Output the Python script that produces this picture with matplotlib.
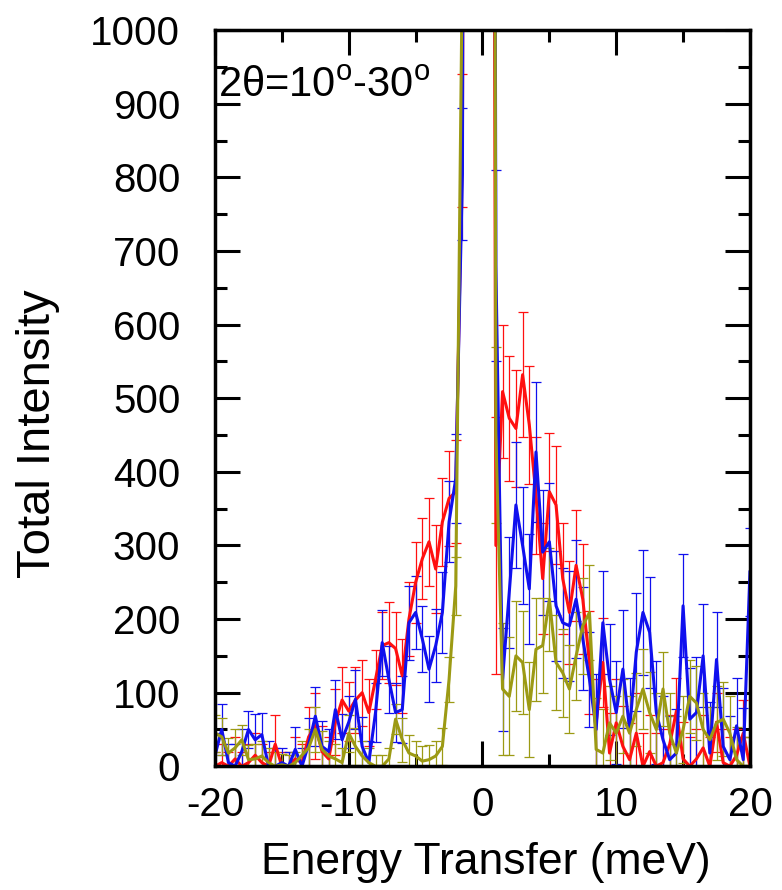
import numpy as np
import matplotlib
matplotlib.use("Agg")
import matplotlib.pyplot as plt
from matplotlib.ticker import MultipleLocator

plt.rcParams['font.family'] = ['Liberation Sans', 'DejaVu Sans']
plt.rcParams['axes.unicode_minus'] = False
plt.rcParams['mathtext.fontset'] = 'custom'
plt.rcParams['mathtext.rm'] = 'Liberation Sans'

# energy grid (meV), 0.5 meV bins
energy = np.linspace(-20, 20, 81)

# elastic bins (-1.0 .. 0.5) run far off the top of the scale
red_I = [0, 5, 0, 10, 0, 5, 15, 5, 0, 30, 0, 0, 10, 5, 40, 55, 20, 10, 60, 90,
         75, 90, 100, 73, 118, 164, 168, 160, 123, 200, 250, 282, 305, 268, 332, 364, 373, 850,
         4000, 9000, 9000, 4000,
         300, 509, 473, 459, 532, 464, 368, 255, 373, 355, 255, 209, 273, 227, 141, 59, 141, 18, 59, 27,
         9, 45, 0, 20, 0, 5, 30, 75, 10, 0, 10, 25, 0, 60, 5, 0, 15, 45, 0]
red_err = [20, 25, 20, 30, 20, 25, 30, 25, 20, 40, 20, 20, 30, 25, 40, 45, 35, 30, 45, 45,
           40, 45, 45, 45, 40, 45, 55, 50, 50, 50, 55, 55, 60, 60, 60, 65, 70, 90,
           200, 300, 300, 200,
           175, 90, 85, 80, 85, 80, 80, 75, 80, 80, 75, 70, 75, 75, 70, 60, 60, 55, 60, 55,
           50, 55, 45, 50, 45, 45, 40, 45, 50, 40, 40, 45, 40, 40, 45, 40, 35, 45, 40]

blue_I = [15, 50, 5, 0, 20, 50, 36, 43, 0, 0, 5, 0, 23, 0, 30, 68, 27, 20, 77, 36,
          60, 91, 27, 5, 73, 168, 118, 73, 77, 195, 209, 173, 132, 164, 209, 332, 391, 805,
          5000, 12000, 12000, 5000,
          680, 118, 236, 355, 300, 241, 427, 291, 305, 218, 195, 191, 227, 173, 118, 50, 195, 118, 73, 132,
          50, 155, 209, 182, 73, 36, 9, 18, 218, 64, 73, 150, 18, 145, 27, 9, 55, 9, 264]
blue_err = [30, 35, 25, 30, 30, 25, 35, 30, 35, 25, 20, 20, 30, 25, 35, 40, 35, 30, 40, 35,
            35, 40, 40, 30, 40, 45, 45, 40, 45, 50, 50, 45, 45, 50, 55, 55, 60, 90,
            200, 300, 300, 200,
            130, 70, 75, 85, 80, 75, 95, 85, 80, 75, 75, 75, 80, 70, 65, 75, 70, 75, 70, 80,
            70, 80, 85, 75, 70, 60, 60, 60, 70, 70, 75, 70, 70, 65, 80, 60, 65, 70, 60]

olive_I = [45, 40, 18, 25, 36, 9, 10, 14, 5, 0, 2, 0, 5, 15, 25, 50, 23, 14, 10, 5,
           45, 27, 14, 5, 0, 0, 10, 64, 36, 18, 14, 7, 9, 14, 27, 118, 245, 1100,
           6000, 15000, 15000, 6000,
           450, 105, 95, 150, 141, 77, 159, 164, 227, 141, 127, 105, 150, 191, 209, 23, 18, 59, 45, 68,
           45, 77, 105, 73, 50, 105, 45, 18, 50, 95, 86, 50, 36, 59, 64, 45, 9, 0, 0]
olive_err = [25, 25, 20, 25, 20, 20, 20, 20, 20, 20, 15, 15, 15, 20, 25, 30, 25, 20, 20, 20,
             25, 25, 20, 20, 15, 15, 15, 20, 30, 25, 20, 20, 20, 20, 25, 30, 40, 100,
             200, 300, 300, 200,
             120, 90, 80, 75, 70, 65, 70, 65, 70, 65, 60, 60, 60, 65, 65, 70, 60, 50, 50, 50,
             50, 50, 55, 55, 50, 50, 55, 50, 45, 50, 50, 50, 45, 50, 50, 50, 45, 40, 40]

fig = plt.figure(figsize=(7.82, 8.90), dpi=100)
ax = fig.add_axes([0.275, 0.139, 0.684, 0.827])

for I, err, col in [(red_I, red_err, '#ff1010'),
                    (blue_I, blue_err, '#1010ee'),
                    (olive_I, olive_err, '#9c9a14')]:
    ax.errorbar(energy, I, yerr=err, fmt='-', color=col, lw=2.2,
                elinewidth=0.9, capsize=3.5, capthick=0.9)

ax.set_xlim(-20, 20)
ax.set_ylim(0, 1000)
ax.xaxis.set_major_locator(MultipleLocator(10))
ax.xaxis.set_minor_locator(MultipleLocator(5))
ax.yaxis.set_major_locator(MultipleLocator(100))
ax.yaxis.set_minor_locator(MultipleLocator(50))
ax.tick_params(which='both', direction='in', top=True, right=True, width=2.2)
ax.tick_params(which='major', length=18)
ax.tick_params(which='minor', length=8.5)
ax.tick_params(axis='y', labelsize=29, pad=25)
ax.tick_params(axis='x', labelsize=29, pad=14)
for s in ax.spines.values():
    s.set_linewidth(2.5)

ax.set_xlabel('Energy Transfer (meV)', fontsize=32)
ax.xaxis.set_label_coords(0.507, -0.103)
ax.set_ylabel('Total Intensity', fontsize=34)
ax.yaxis.set_label_coords(-0.29, 0.452)
ax.text(0.006, 0.909, r'2θ=10$^\mathrm{o}$-30$^\mathrm{o}$', transform=ax.transAxes,
        fontsize=30, ha='left', va='baseline')

fig.savefig('out.png', dpi=100)
